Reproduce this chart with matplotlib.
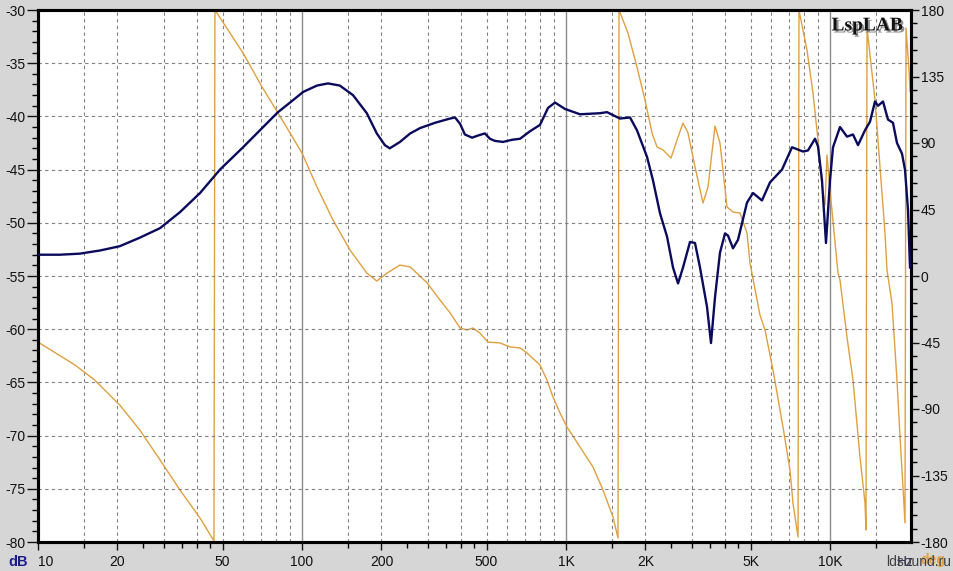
import matplotlib
matplotlib.use("Agg")
import matplotlib.pyplot as plt
from matplotlib import patheffects
from matplotlib.ticker import FixedLocator, MultipleLocator, NullFormatter

# magnitude response (Hz, dB)
mag_freq = [10, 12.1, 14.4, 17.2, 20.4, 24.3, 29.0, 34.5, 41.1, 48.9,
            59.8, 70.6, 81.1, 90.1, 101, 114, 125.5, 139, 156, 176,
            192, 206, 215, 235, 257, 280, 319, 364, 380, 397,
            414, 441, 464, 493, 515, 538, 577, 624, 670, 730,
            797, 855, 909, 991, 1130, 1345, 1430, 1601, 1748, 1857,
            2027, 2135, 2270, 2414, 2543, 2657, 2775, 2949, 3081, 3218,
            3421, 3542, 3668, 3831, 4003, 4108, 4292, 4483, 4849, 5109,
            5526, 5926, 6580, 7180, 7901, 8254, 8774, 9006, 9326, 9657,
            10000, 10266, 10912, 11599, 12222, 12768, 13572, 14175, 14807, 15199,
            15878, 16585, 17322, 17937, 18738, 19234, 19748, 20095]
mag_db = [-53.0, -53.0, -52.9, -52.6, -52.2, -51.4, -50.5, -49.0, -47.2, -45.0,
          -42.9, -41.1, -39.6, -38.7, -37.7, -37.1, -36.9, -37.1, -38.0, -39.7,
          -41.6, -42.7, -43.0, -42.4, -41.6, -41.1, -40.6, -40.2, -40.1, -40.7,
          -41.7, -42.0, -41.8, -41.6, -42.1, -42.3, -42.4, -42.2, -42.1, -41.4,
          -40.8, -39.2, -38.7, -39.3, -39.8, -39.7, -39.6, -40.2, -40.1, -41.3,
          -43.8, -46.0, -49.1, -51.3, -54.2, -55.7, -54.2, -51.8, -51.9, -54.2,
          -57.9, -61.3, -57.0, -52.8, -51.0, -51.2, -52.4, -51.6, -48.1, -47.2,
          -47.9, -46.2, -45.0, -42.9, -43.3, -43.2, -42.1, -42.8, -46.0, -51.9,
          -46.0, -42.9, -41.0, -41.9, -41.7, -42.7, -41.3, -40.5, -38.6, -39.0,
          -38.6, -40.3, -40.6, -42.5, -43.5, -45.0, -48.8, -54.2]

# phase response (Hz, deg), wrapped to +/-180
phase_freq = [10, 13.8, 16.4, 20.4, 24.3, 29.0, 34.5, 41.1, 46.4,
              46.8, 59.8, 70.6, 81.1, 90.1, 100, 114, 131, 152, 176,
              192, 210, 235, 257, 298, 333, 364, 397, 422, 444,
              472, 506, 562, 614, 670, 712, 797, 847, 893, 949,
              1009, 1130, 1266, 1381, 1507, 1574,
              1588, 1717, 1857, 1992, 2118, 2212, 2331, 2499, 2633, 2775,
              2899, 3081, 3303, 3451, 3668, 3831, 4073, 4292, 4562, 4849,
              4977, 5429, 5673, 6083, 6637, 7055, 7241, 7568,
              7630, 8182, 8622, 9006, 9326, 9574, 9741, 10000, 10723, 10912,
              11599, 12222, 12990, 13572, 13690,
              13810, 14807, 15466, 16156, 16440, 17172, 17937, 18420, 18900, 19234,
              19410, 19917, 20095]
phase_deg = [-44.7, -60.2, -70.4, -87.3, -104.2, -124.5, -144.8, -163.8, -179.3,
             180, 150.9, 127.9, 110.3, 96.8, 83.2, 60.2, 37.9, 17.6, 2.0,
             -3.4, 2.0, 7.4, 6.1, -4.7, -16.2, -25.0, -35.2, -36.5, -35.2,
             -38.6, -44.7, -45.3, -48.0, -48.7, -52.1, -60.2, -70.4, -81.9, -92.7,
             -102.2, -115.7, -129.3, -144.8, -163.1, -177.3,
             180, 164.4, 141.4, 119.1, 96.8, 87.3, 85.3, 79.8, 92.0, 103.5,
             96.8, 73.8, 49.4, 60.2, 101.5, 90.0, 46.7, 43.3, 42.6, 29.1,
             8.8, -26.4, -36.5, -63.6, -102.2, -131.3, -153.6, -176.6,
             180, 152.9, 123.8, 92.0, 60.2, 48.0, 81.9, 58.2, 2.0, -2.7,
             -41.3, -70.4, -122.5, -153.6, -171.9,
             167.8, 119.1, 73.8, 29.1, 4.1, -18.3, -70.4, -108.9, -142.8, -167.1,
             167.8, 139.4, 125.0]

db_ticks = list(range(-80, -25, 5))
deg_ticks = list(range(-180, 181, 45))
freq_ticks = [10, 20, 50, 100, 200, 500, 1000, 2000, 5000, 10000]
freq_labels = ["10", "20", "50", "100", "200", "500", "1K", "2K", "5K", "10K"]

NAVY = "#0b0b5e"
ORANGE = "#dfa040"
GRID = "#808080"

plt.rcParams["font.family"] = ["Liberation Sans", "DejaVu Sans"]

fig = plt.figure(figsize=(9.54, 5.71), dpi=100, facecolor="#d6d6d6")
ax = fig.add_axes([38 / 954, 29 / 571, 873 / 954, 532 / 571])
ax2 = ax.twinx()
# magnitude axes on top, phase axes underneath with the white background
ax.set_zorder(ax2.get_zorder() + 1)
ax.patch.set_visible(False)
ax2.patch.set_visible(True)
ax2.patch.set_facecolor("white")

ax.set_xscale("log")
ax.set_xlim(10, 20270)
ax.set_ylim(-80, -30)
ax2.set_ylim(-180, 180)

# vertical grid: dashed inside each decade, solid on decades
for dec in [10, 100, 1000, 10000]:
    for m in [1.5, 2, 3, 4, 5, 6, 7, 8, 9]:
        if m * dec < 20000:
            ax2.axvline(m * dec, color=GRID, lw=0.8, ls=(0, (3, 3)), zorder=0)
for dec in [100, 1000, 10000]:
    ax2.axvline(dec, color="#8c8c8c", lw=1.0, zorder=0)

ax2.plot(phase_freq, phase_deg, color=ORANGE, lw=1.0, zorder=2)
ax.plot(mag_freq, mag_db, color=NAVY, lw=1.7, zorder=3)

# axes ticks
ax.xaxis.set_major_locator(FixedLocator(freq_ticks))
ax.set_xticklabels(freq_labels)
ax.get_xticklabels()[0].set_horizontalalignment("left")
minor_f = [m * d for d in [10, 100, 1000, 10000] for m in [1.5, 2.5, 3, 3.5, 4, 4.5]]
ax.xaxis.set_minor_locator(FixedLocator(minor_f))
ax.xaxis.set_minor_formatter(NullFormatter())

ax.set_yticks(db_ticks)
ax.set_yticklabels([str(v) for v in db_ticks])
ax.yaxis.set_minor_locator(MultipleLocator(1))
ax2.set_yticks(deg_ticks)
ax2.set_yticklabels([str(v) for v in deg_ticks])
ax2.yaxis.set_minor_locator(MultipleLocator(9))

ax.yaxis.grid(True, which="major", color=GRID, lw=0.8, ls=(0, (3, 3)))
ax.set_axisbelow(True)

ax.tick_params(axis="y", which="major", direction="out", length=8, width=1,
               labelsize=10, pad=1, colors="#111111")
ax.tick_params(axis="y", which="minor", direction="out", length=4, width=1)
ax.tick_params(axis="x", which="major", direction="out", length=6, width=1,
               labelsize=10, pad=3, colors="#111111")
ax.tick_params(axis="x", which="minor", direction="out", length=4, width=1)
ax2.tick_params(axis="y", which="major", direction="out", length=6, width=1,
                labelsize=10, pad=1, colors="#111111")
ax2.tick_params(axis="y", which="minor", direction="out", length=4, width=1)

for a in (ax, ax2):
    for sp in a.spines.values():
        sp.set_linewidth(2.2)
        sp.set_color("black")

# labels and marks
ax.text(0.991, 0.986, "LspLAB", transform=ax.transAxes, ha="right", va="top",
        fontsize=14, fontweight="bold", family="Liberation Serif", color="#111111",
        path_effects=[patheffects.withSimplePatchShadow(offset=(1.5, -1.5),
                                                        shadow_rgbFace="#777777", alpha=0.8)],
        zorder=5)
fig.text(8 / 954, 1 - 562 / 571, "dB", fontsize=10.5, fontweight="bold",
         color="#1c1c8a", ha="left", va="center")
fig.text(897 / 954, 1 - 562 / 571, "Hz", fontsize=10, color="#30305a",
         ha="left", va="center")
fig.text(920 / 954, 1 - 560 / 571, "deg", fontsize=10, fontweight="bold",
         color="#e8a040", ha="left", va="center")
fig.text(951 / 954, 1 - 562 / 571, "ldsound.ru", fontsize=10, color="#404040",
         ha="right", va="center")

fig.savefig("out.png", dpi=100, facecolor=fig.get_facecolor())
